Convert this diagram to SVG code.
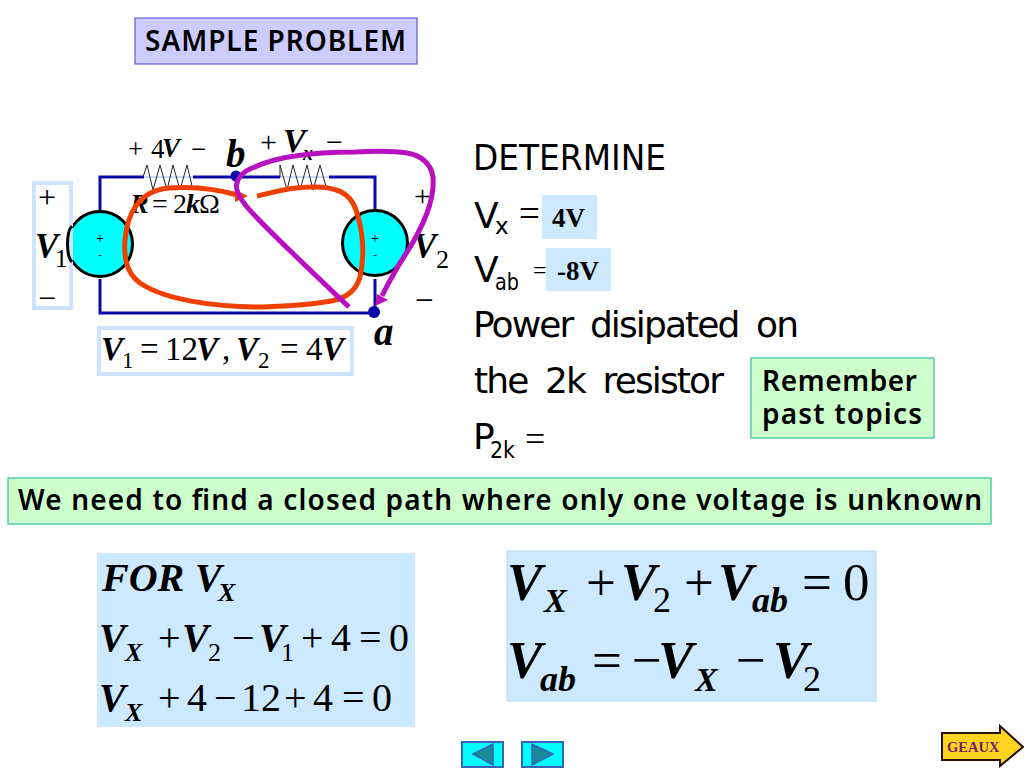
<svg xmlns="http://www.w3.org/2000/svg" width="1024" height="768" viewBox="0 0 1024 768">
<style>
.s{font-family:"Liberation Serif",serif;fill:#000}
.i{font-style:italic;font-weight:bold}
.d{font-family:"DejaVu Sans",sans-serif;fill:#000}
.b{font-family:"Noto Sans",sans-serif;font-weight:600;fill:#000}
.lb{fill:#cce9ff}
.box{fill:#fff;stroke:#cce4ff;stroke-width:4}
.wire{fill:none;stroke:#0a0aaa;stroke-width:3}
.src{fill:#00ffff;stroke:#000;stroke-width:3}
.res{fill:none;stroke:#222;stroke-width:1}
.red{fill:none;stroke:#f04000;stroke-width:5}
.pur{fill:none;stroke:#b810c0;stroke-width:5}
.grn{fill:#ccffcc;stroke:#55ccaa;stroke-width:1.500}
.nav{fill:#00ffff;stroke:#3366bb;stroke-width:2}
.tri{fill:#1a8a9a;stroke:#3366bb;stroke-width:1.500}
</style>
<rect width="1024" height="768" fill="#fff"/>
<g id="title"><rect x="135" y="18" width="282" height="46" fill="#ccccff" stroke="#4444cc" stroke-width="1"/><text class="b" x="145" y="51" font-size="28" textLength="261" lengthAdjust="spacing">SAMPLE PROBLEM</text></g>
<g id="circuit">
<path class="wire" d="M144 177H100V210M100 279V313H375V279M375 210V177H329M280 177H193"/>
<path d="M144 177H193M280 177H329" fill="none" stroke="#aab4e8" stroke-width="1"/>
<path class="res" d="M143 177L147 165L153 190L160 165L167 190L173 165L180 190L187 165L193 190M280 177L280 165L287 190L293 165L300 190L307 165L313 190L320 165L327 190"/>
<circle class="src" cx="100" cy="244" r="32.500"/>
<circle class="src" cx="375" cy="243" r="32.500"/>
<rect class="box" x="34" y="183" width="37" height="125"/>
<path d="M67.500 244C67.500 236 69 229 72 226M67.500 244C67.500 252 69 259 72 262" fill="none" stroke="#000" stroke-width="3"/>
<rect class="box" x="99" y="328" width="253" height="46"/>
<circle cx="236" cy="176" r="5.500" fill="#0a0aaa"/>
<circle cx="374" cy="312" r="6" fill="#0a0aaa"/>
<text class="d" font-size="10" text-anchor="middle"><tspan x="100" y="242">+</tspan><tspan x="100" y="258">-</tspan></text>
<text class="d" font-size="10" text-anchor="middle"><tspan x="375" y="242">+</tspan><tspan x="375" y="258">-</tspan></text>
<text class="s" font-size="32"><tspan x="38" y="208">+</tspan><tspan x="38" y="309">−</tspan></text>
<text class="s"><tspan class="i" x="35" y="258" font-size="35">V</tspan><tspan x="55" y="267" font-size="25">1</tspan></text>
<text class="s" font-size="27"><tspan x="128" y="158">+</tspan><tspan x="151" y="158">4</tspan><tspan class="i" x="162" y="157">V</tspan><tspan x="191" y="158">−</tspan></text>
<text class="s i" x="226" y="167" font-size="39">b</text>
<text class="s"><tspan x="260" y="152" font-size="30">+</tspan><tspan class="i" x="283" y="152" font-size="34">V</tspan><tspan class="i" x="303" y="160" font-size="20">x</tspan><tspan x="326" y="152" font-size="30">−</tspan></text>
<text class="s" font-size="28"><tspan class="i" x="130" y="213">R</tspan><tspan x="152" y="213">=</tspan><tspan x="173" y="213">2</tspan><tspan class="i" x="186" y="213">k</tspan><tspan x="199" y="213">Ω</tspan></text>
<text class="s" font-size="30"><tspan x="414" y="206">+</tspan><tspan x="415" y="311" font-size="33">−</tspan></text>
<text class="s"><tspan class="i" x="413" y="258" font-size="35">V</tspan><tspan x="436" y="268" font-size="26">2</tspan></text>
<text class="s i" x="374" y="345" font-size="39">a</text>
<text class="s" font-size="33"><tspan class="i" x="101" y="360">V</tspan><tspan x="122" y="368" font-size="23">1</tspan><tspan x="140" y="360">=</tspan><tspan x="165" y="360">12</tspan><tspan class="i" x="196" y="360">V</tspan><tspan x="222" y="360">,</tspan><tspan class="i" x="236" y="360">V</tspan><tspan x="258" y="368" font-size="23">2</tspan><tspan x="280" y="360">=</tspan><tspan x="306" y="360">4</tspan><tspan class="i" x="322" y="360">V</tspan></text>
</g>
<g id="connectors">
<path class="red" d="M257 196C275 192 290 187 310 187C335 186 350 192 356 210C363 230 365 255 360 277C355 295 340 300 325 302C300 306 280 306 260 307C215 307 165 300 140 283C125 272 124 255 125 240C127 215 138 190 170 188C195 186 220 190 238 195"/>
<path d="M235 190L248 196L235 202Z" fill="#f04000"/>
<path class="pur" d="M349 307C310 270 262 225 247 207C238 196 235 188 237 183C239 176 245 171 250 169C265 162 280 158 295 156C320 152 340 152 355 152C375 151 395 151 407 153C420 155 431 163 433 177C434 190 430 205 427 213C420 232 410 248 400 263C393 275 387 285 382 296"/>
<path d="M375 306L377 294L388 300Z" fill="#b810c0"/>
</g>
<g id="determine">
<text class="d" x="473" y="170" font-size="36" textLength="193" lengthAdjust="spacingAndGlyphs">DETERMINE</text>
<text class="d"><tspan x="474" y="228" font-size="36">V</tspan><tspan x="495" y="234" font-size="23">x</tspan></text><text class="s" x="519" y="226" font-size="37">=</text>
<rect class="lb" x="542" y="195" width="55" height="44"/><text class="s" font-weight="bold" x="552" y="227" font-size="27">4V</text>
<text class="d"><tspan x="474" y="282" font-size="36">V</tspan><tspan x="495" y="290" font-size="23" textLength="24" lengthAdjust="spacingAndGlyphs">ab</tspan></text><text class="s" x="533" y="278" font-size="24">=</text>
<rect class="lb" x="546" y="248" width="65" height="43"/><text class="s" font-weight="bold" x="557" y="280" font-size="27">-8V</text>
<text class="d" x="473" y="337" font-size="36" textLength="326" lengthAdjust="spacing" word-spacing="8">Power disipated on</text>
<text class="d" x="474" y="393" font-size="36" textLength="250" lengthAdjust="spacing" word-spacing="8">the 2k resistor</text>
<text class="d"><tspan x="473" y="449" font-size="36">P</tspan><tspan x="490" y="458" font-size="23" textLength="25" lengthAdjust="spacingAndGlyphs">2k</tspan></text><text class="s" x="525" y="451" font-size="36">=</text>
</g>
<g id="remember"><rect class="grn" x="751" y="358" width="183" height="80"/><text class="b" x="762" y="391" font-size="28" textLength="155" lengthAdjust="spacing">Remember</text><text class="b" x="762" y="424" font-size="28" textLength="160" lengthAdjust="spacing">past topics</text></g>
<g id="hint"><rect class="grn" x="8" y="478" width="983" height="46"/><text class="b" x="18" y="510" font-size="28" textLength="964" lengthAdjust="spacing">We need to find a closed path where only one voltage is unknown</text></g>
<g id="eq-left">
<rect class="lb" x="97" y="553" width="318" height="174"/>
<text class="s i" font-size="40"><tspan x="102" y="591">FOR</tspan><tspan x="195" y="591">V</tspan><tspan x="218" y="601" font-size="26">X</tspan></text>
<text class="s" font-size="40"><tspan class="i" x="99" y="651">V</tspan><tspan class="i" x="125" y="661" font-size="26">X</tspan><tspan x="158" y="651">+</tspan><tspan class="i" x="182" y="651">V</tspan><tspan x="208" y="661" font-size="26">2</tspan><tspan x="232" y="651">−</tspan><tspan class="i" x="259" y="651">V</tspan><tspan x="281" y="661" font-size="26">1</tspan><tspan x="301" y="651">+</tspan><tspan x="331" y="651">4</tspan><tspan x="359" y="651">=</tspan><tspan x="389" y="651">0</tspan></text>
<text class="s" font-size="40"><tspan class="i" x="99" y="711">V</tspan><tspan class="i" x="125" y="721" font-size="26">X</tspan><tspan x="158" y="711">+</tspan><tspan x="187" y="711">4</tspan><tspan x="214" y="711">−</tspan><tspan x="241" y="711">12</tspan><tspan x="284" y="711">+</tspan><tspan x="313" y="711">4</tspan><tspan x="342" y="711">=</tspan><tspan x="372" y="711">0</tspan></text>
</g>
<g id="eq-right">
<rect class="lb" x="507" y="551" width="369" height="150" stroke="#b8dcf6" stroke-width="1"/>
<text class="s" font-size="53"><tspan class="i" x="507" y="600">V</tspan><tspan class="i" x="544" y="612" font-size="34">X</tspan><tspan x="586" y="600">+</tspan><tspan class="i" x="621" y="600">V</tspan><tspan x="653" y="612" font-size="36">2</tspan><tspan x="684" y="600">+</tspan><tspan class="i" x="718" y="600">V</tspan><tspan class="i" x="752" y="612" font-size="36">ab</tspan><tspan x="802" y="600">=</tspan><tspan x="843" y="600">0</tspan></text>
<text class="s" font-size="53"><tspan class="i" x="507" y="678">V</tspan><tspan class="i" x="540" y="691" font-size="36">ab</tspan><tspan x="592" y="678">=</tspan><tspan x="632" y="678">−</tspan><tspan class="i" x="658" y="678">V</tspan><tspan class="i" x="695" y="691" font-size="34">X</tspan><tspan x="736" y="678">−</tspan><tspan class="i" x="773" y="678">V</tspan><tspan x="803" y="691" font-size="36">2</tspan></text>
</g>
<g id="nav-prev"><rect class="nav" x="462" y="742" width="41" height="25"/><path class="tri" d="M473 754L493 744V765Z"/></g>
<g id="nav-next"><rect class="nav" x="522" y="742" width="41" height="25"/><path class="tri" d="M532 744L553 754L532 765Z"/></g>
<g id="geaux"><path d="M942 733H1000V726L1023 747L1000 766V760H942Z" fill="#ffd41e" stroke="#221100" stroke-width="2"/><text x="947" y="752" font-family="Liberation Serif,serif" font-weight="bold" font-size="14.500" fill="#7a1a6a">GEAUX</text></g>
</svg>
